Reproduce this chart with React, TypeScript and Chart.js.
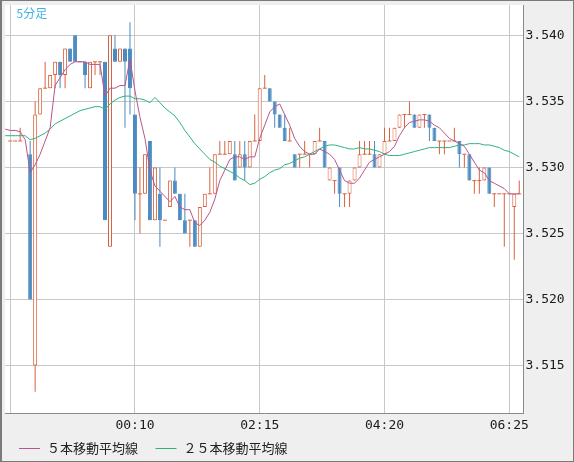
import React, { useEffect, useRef } from "react";
import { Chart, registerables } from "chart.js";

Chart.register(...registerables);

// 5-minute candles, index 0 = 22:05 (index 3 has no bar)
const opens: (number | null)[] = [
  3.532, 3.532, 3.532, null, 3.531, 3.515, 3.534, 3.536, 3.536, 3.537,
  3.538, 3.537, 3.539, 3.540, 3.538, 3.538, 3.536, 3.538, 3.538, 3.538,
  3.524, 3.539, 3.538, 3.539, 3.539, 3.534, 3.528, 3.528, 3.532, 3.526,
  3.528, 3.526, 3.527, 3.529, 3.528, 3.526, 3.526, 3.526, 3.524, 3.527,
  3.528, 3.528, 3.531, 3.531, 3.531, 3.531, 3.530, 3.531, 3.530, 3.532,
  3.532, 3.536, 3.536, 3.535, 3.534, 3.533, 3.532, 3.531, 3.531, 3.531,
  3.531, 3.531, 3.532, 3.532, 3.529, 3.529, 3.530, 3.528, 3.528, 3.529,
  3.530, 3.531, 3.531, 3.531, 3.530, 3.531, 3.532, 3.532, 3.533, 3.534,
  3.534, 3.534, 3.533, 3.534, 3.534, 3.533, 3.532, 3.532, 3.532, 3.532,
  3.532, 3.531, 3.531, 3.529, 3.529, 3.529, 3.530, 3.528, 3.528, 3.528,
  3.528, 3.527, 3.528,
];
const highs: (number | null)[] = [
  3.532, 3.532, 3.533, null, 3.532, 3.535, 3.536, 3.538, 3.537, 3.538,
  3.538, 3.539, 3.539, 3.540, 3.538, 3.538, 3.538, 3.538, 3.538, 3.538,
  3.540, 3.540, 3.539, 3.539, 3.541, 3.534, 3.530, 3.531, 3.532, 3.530,
  3.530, 3.526, 3.529, 3.530, 3.528, 3.528, 3.526, 3.526, 3.527, 3.528,
  3.530, 3.531, 3.532, 3.532, 3.532, 3.532, 3.532, 3.532, 3.532, 3.534,
  3.536, 3.537, 3.536, 3.535, 3.534, 3.534, 3.533, 3.531, 3.531, 3.532,
  3.531, 3.532, 3.533, 3.532, 3.530, 3.529, 3.530, 3.528, 3.529, 3.530,
  3.532, 3.532, 3.532, 3.532, 3.531, 3.533, 3.533, 3.533, 3.534, 3.534,
  3.535, 3.534, 3.534, 3.534, 3.534, 3.533, 3.532, 3.532, 3.532, 3.533,
  3.532, 3.531, 3.531, 3.529, 3.530, 3.530, 3.530, 3.528, 3.528, 3.528,
  3.528, 3.528, 3.529,
];
const lows: (number | null)[] = [
  3.532, 3.532, 3.532, null, 3.520, 3.513, 3.534, 3.536, 3.536, 3.536,
  3.536, 3.536, 3.538, 3.538, 3.538, 3.536, 3.536, 3.537, 3.537, 3.526,
  3.524, 3.538, 3.538, 3.533, 3.534, 3.526, 3.525, 3.528, 3.526, 3.526,
  3.524, 3.526, 3.527, 3.528, 3.526, 3.525, 3.524, 3.524, 3.524, 3.527,
  3.528, 3.528, 3.531, 3.531, 3.531, 3.529, 3.530, 3.529, 3.530, 3.532,
  3.532, 3.536, 3.535, 3.533, 3.533, 3.532, 3.532, 3.530, 3.530, 3.531,
  3.530, 3.531, 3.532, 3.530, 3.529, 3.528, 3.527, 3.527, 3.527, 3.529,
  3.530, 3.531, 3.531, 3.530, 3.530, 3.531, 3.532, 3.532, 3.533, 3.533,
  3.534, 3.533, 3.533, 3.533, 3.532, 3.532, 3.531, 3.531, 3.532, 3.532,
  3.530, 3.530, 3.529, 3.528, 3.528, 3.529, 3.528, 3.527, 3.528, 3.524,
  3.528, 3.523, 3.528,
];
const closes: (number | null)[] = [
  3.532, 3.532, 3.532, null, 3.520, 3.534, 3.536, 3.536, 3.537, 3.538,
  3.537, 3.539, 3.538, 3.538, 3.538, 3.537, 3.538, 3.538, 3.538, 3.526,
  3.540, 3.538, 3.539, 3.538, 3.536, 3.528, 3.528, 3.531, 3.526, 3.530,
  3.526, 3.526, 3.529, 3.528, 3.526, 3.525, 3.526, 3.524, 3.527, 3.528,
  3.528, 3.531, 3.531, 3.531, 3.532, 3.529, 3.531, 3.530, 3.532, 3.532,
  3.536, 3.536, 3.535, 3.534, 3.533, 3.532, 3.532, 3.530, 3.531, 3.531,
  3.531, 3.532, 3.532, 3.530, 3.530, 3.529, 3.528, 3.528, 3.529, 3.530,
  3.531, 3.531, 3.531, 3.530, 3.531, 3.532, 3.532, 3.533, 3.534, 3.534,
  3.534, 3.533, 3.534, 3.534, 3.533, 3.532, 3.532, 3.532, 3.532, 3.532,
  3.531, 3.531, 3.529, 3.529, 3.529, 3.530, 3.528, 3.528, 3.528, 3.528,
  3.528, 3.528, 3.528,
];

// moving-average lines, starting at index -1
const maStart = -1;
const ma5: number[] = [
  3.5329,
  3.5328, 3.5328, 3.5327, 3.5321, 3.5296, 3.5302, 3.5310, 3.5320, 3.5330, 3.5362,
  3.5368, 3.5374, 3.5378, 3.5380, 3.5380, 3.5380, 3.5378, 3.5378, 3.5378, 3.5354,
  3.5360, 3.5360, 3.5362, 3.5362, 3.5382, 3.5358, 3.5338, 3.5322, 3.5298, 3.5286,
  3.5282, 3.5278, 3.5274, 3.5278, 3.5270, 3.5268, 3.5268, 3.5258, 3.5256, 3.5260,
  3.5266, 3.5276, 3.5290, 3.5298, 3.5306, 3.5308, 3.5308, 3.5306, 3.5308, 3.5308,
  3.5322, 3.5332, 3.5342, 3.5346, 3.5348, 3.5340, 3.5332, 3.5322, 3.5316, 3.5312,
  3.5310, 3.5310, 3.5314, 3.5312, 3.5310, 3.5306, 3.5298, 3.5290, 3.5288, 3.5288,
  3.5292, 3.5298, 3.5304, 3.5306, 3.5308, 3.5310, 3.5312, 3.5316, 3.5324, 3.5330,
  3.5334, 3.5335, 3.5336, 3.5336, 3.5335, 3.5332, 3.5330, 3.5326, 3.5322, 3.5320,
  3.5318, 3.5316, 3.5310, 3.5304, 3.5298, 3.5296, 3.5290, 3.5288, 3.5286, 3.5284,
  3.5280, 3.5280, 3.5280,
];
const ma25: number[] = [
  3.5324,
  3.5324, 3.5324, 3.5324, 3.5324, 3.5321, 3.5322, 3.5324, 3.5326, 3.5329, 3.5333,
  3.5335, 3.5337, 3.5339, 3.5341, 3.5343, 3.5344, 3.5345, 3.5346, 3.5346, 3.5344,
  3.5348, 3.5351, 3.5353, 3.5354, 3.5354, 3.5352, 3.5352, 3.5351, 3.5349, 3.5353,
  3.5349, 3.5345, 3.5342, 3.5339, 3.5334, 3.5328, 3.5323, 3.5318, 3.5314, 3.5310,
  3.5306, 3.5304, 3.5301, 3.5299, 3.5297, 3.5295, 3.5292, 3.5290, 3.5287, 3.5288,
  3.5291, 3.5293, 3.5296, 3.5298, 3.5299, 3.5302, 3.5303, 3.5305, 3.5307, 3.5308,
  3.5310, 3.5312, 3.5314, 3.5316, 3.5317, 3.5317, 3.5316, 3.5315, 3.5314, 3.5314,
  3.5315, 3.5314, 3.5314, 3.5313, 3.5312, 3.5310, 3.5309, 3.5309, 3.5309, 3.5310,
  3.5311, 3.5312, 3.5313, 3.5314, 3.5315, 3.5315, 3.5315, 3.5315, 3.5315, 3.5316,
  3.5317, 3.5317, 3.5318, 3.5318, 3.5318, 3.5317, 3.5317, 3.5316, 3.5315, 3.5313,
  3.5312, 3.5310, 3.5308,
];

const xTickIdx = [0, 25, 50, 75, 100];
const xTickLabels = ["", "00:10", "02:15", "04:20", "06:25"];
const yTicks = [3.515, 3.52, 3.525, 3.53, 3.535, 3.54];

const titleText = "5分足";
const ma5Label = "５本移動平均線";
const ma25Label = "２５本移動平均線";

const UP = "#d8623f";
const DOWN = "#4a8ac0";
const MA5C = "#b8558e";
const MA25C = "#2fb37a";

const framePlugin = {
  id: "framePlugin",
  beforeDraw(chart: any) {
    const { ctx, chartArea: a, width, height } = chart;
    ctx.save();
    ctx.fillStyle = "#efefef";
    ctx.fillRect(0, 0, width, height);
    ctx.fillStyle = "#ffffff";
    ctx.fillRect(a.left, a.top, a.right - a.left, a.bottom - a.top);
    ctx.restore();
  },
  afterDraw(chart: any) {
    const { ctx, chartArea: a, width, height } = chart;
    ctx.save();
    // title
    ctx.font = '12px "Noto Sans CJK JP", sans-serif';
    ctx.fillStyle = "#3cb4e6";
    ctx.textBaseline = "middle";
    ctx.textAlign = "left";
    ctx.fillText(titleText, a.left + 11.5, a.top + 8.5);
    // legend
    const items = chart.data.datasets.filter((d: any) => d.isMA);
    ctx.font = '13px "Noto Sans CJK JP", sans-serif';
    let x = a.left + 14;
    const y = a.bottom + 34.5;
    items.forEach((d: any) => {
      ctx.strokeStyle = d.borderColor;
      ctx.lineWidth = 1;
      ctx.beginPath();
      ctx.moveTo(x, Math.round(y) + 0.5);
      ctx.lineTo(x + 21, Math.round(y) + 0.5);
      ctx.stroke();
      ctx.fillStyle = "#222222";
      ctx.fillText(d.label, x + 28, y + 0.5);
      x += 28 + ctx.measureText(d.label).width + 17.5;
    });
    // outer frame
    ctx.strokeStyle = "#7a7a7a";
    ctx.lineWidth = 1;
    ctx.strokeRect(0.5, 0.5, width - 1, height - 1);
    ctx.beginPath();
    ctx.moveTo(1.5, 0);
    ctx.lineTo(1.5, height);
    ctx.stroke();
    ctx.restore();
  },
};

export default function App() {
  const ref = useRef<HTMLCanvasElement>(null);

  useEffect(() => {
    if (!ref.current) return;
    const idx = opens.map((_, i) => i).filter((i) => opens[i] !== null);
    const wickData = idx.map((i) => ({ x: i, y: [lows[i], highs[i]] }));
    const wickColors = idx.map((i) => ((closes[i] as number) < (opens[i] as number) ? DOWN : UP));
    const bodyIdx = idx.filter((i) => closes[i] !== opens[i]);
    const bodyData = bodyIdx.map((i) => ({ x: i, y: [opens[i], closes[i]] }));
    const bodyFill = bodyIdx.map((i) => ((closes[i] as number) < (opens[i] as number) ? DOWN : "#ffffff"));
    const bodyBorder = bodyIdx.map((i) => ((closes[i] as number) < (opens[i] as number) ? DOWN : UP));
    const dojiData = idx.filter((i) => closes[i] === opens[i]).map((i) => ({ x: i, y: closes[i] }));
    const ma5Data = ma5.map((v, j) => ({ x: j + maStart, y: v }));
    const ma25Data = ma25.map((v, j) => ({ x: j + maStart, y: v }));

    const chart = new Chart(ref.current, {
      type: "bar",
      data: {
        datasets: [
          {
            type: "line",
            label: ma5Label,
            isMA: true,
            data: ma5Data,
            borderColor: MA5C,
            borderWidth: 1,
            pointRadius: 0,
            tension: 0,
            order: 0,
          } as any,
          {
            type: "line",
            label: ma25Label,
            isMA: true,
            data: ma25Data,
            borderColor: MA25C,
            borderWidth: 1,
            pointRadius: 0,
            tension: 0,
            order: 0,
          } as any,
          {
            type: "line",
            label: "doji",
            data: dojiData,
            showLine: false,
            pointStyle: "line",
            pointRadius: 2,
            pointBorderWidth: 1,
            pointBorderColor: UP,
            pointBackgroundColor: UP,
            order: 1,
          } as any,
          {
            type: "bar",
            label: "body",
            data: bodyData,
            backgroundColor: bodyFill,
            borderColor: bodyBorder,
            borderWidth: 1,
            borderSkipped: false,
            barThickness: 4,
            grouped: false,
            inflateAmount: 0,
            order: 1,
          } as any,
          {
            type: "bar",
            label: "wick",
            data: wickData,
            backgroundColor: wickColors,
            borderWidth: 0,
            barThickness: 1,
            grouped: false,
            inflateAmount: 0,
            order: 2,
          } as any,
        ],
      },
      options: {
        responsive: false,
        animation: false,
        events: [],
        layout: { padding: { left: 2, top: 1, right: 0, bottom: 0 } },
        plugins: {
          legend: { display: false },
          tooltip: { enabled: false },
          title: { display: false },
        },
        scales: {
          x: {
            type: "linear",
            position: "bottom",
            min: -1.04,
            max: 102.85,
            offset: false,
            grid: { color: "#c8c8c8", lineWidth: 1, drawTicks: false, offset: false },
            border: { display: true, color: "#8a8a8a", width: 1 },
            afterBuildTicks: (axis: any) => {
              axis.ticks = xTickIdx.map((v) => ({ value: v }));
            },
            afterFit: (axis: any) => {
              axis.height = 49;
              axis.paddingLeft = 0;
              axis.paddingRight = 0;
            },
            ticks: {
              autoSkip: false,
              maxRotation: 0,
              padding: 4.5,
              color: "#1a1a1a",
              font: { family: '"DejaVu Sans Mono", monospace', size: 13 },
              callback: (v: any) => {
                const k = xTickIdx.indexOf(Number(v));
                return k >= 0 ? xTickLabels[k] : "";
              },
            },
          },
          y: {
            type: "linear",
            position: "right",
            min: 3.5114,
            max: 3.5423,
            beginAtZero: false,
            grid: { color: "#c8c8c8", lineWidth: 1, drawTicks: false },
            border: { display: true, color: "#8a8a8a", width: 1 },
            afterBuildTicks: (axis: any) => {
              axis.ticks = yTicks.map((v) => ({ value: v }));
            },
            afterFit: (axis: any) => {
              axis.width = 50.5;
              axis.paddingTop = 0;
              axis.paddingBottom = 0;
            },
            ticks: {
              padding: 2,
              color: "#1a1a1a",
              font: { family: '"DejaVu Sans Mono", monospace', size: 13 },
              callback: (v: any) => Number(v).toFixed(3),
            },
          },
        },
      } as any,
      plugins: [framePlugin],
    });
    return () => chart.destroy();
  }, []);

  return (
    <div style={{ position: "fixed", left: 0, top: 0, width: 574, height: 462 }}>
      <canvas ref={ref} width={574} height={462} style={{ display: "block" }} />
    </div>
  );
}
